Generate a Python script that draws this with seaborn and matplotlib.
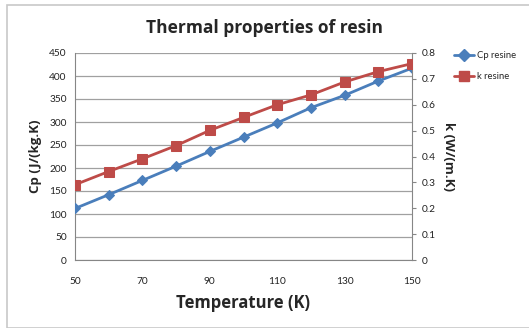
import matplotlib
matplotlib.use("Agg")
import matplotlib.pyplot as plt
import seaborn as sns
import pandas as pd
from matplotlib.patches import Rectangle
from matplotlib.lines import Line2D

temperature = [50, 60, 70, 80, 90, 100, 110, 120, 130, 140, 150]
cp_resine = [112, 142, 173, 204, 236, 267, 298, 331, 358, 389, 417]
k_resine = [0.291, 0.342, 0.391, 0.442, 0.501, 0.551, 0.600, 0.638, 0.688, 0.728, 0.759]
x_ticks = [50, 70, 90, 110, 130, 150]
left_ticks = [0, 50, 100, 150, 200, 250, 300, 350, 400, 450]
right_ticks = [0, 0.1, 0.2, 0.3, 0.4, 0.5, 0.6, 0.7, 0.8]

df = pd.DataFrame({"T": temperature, "cp": cp_resine, "k": k_resine})

sns.set_style("white")
plt.rcParams["font.family"] = ["Lato", "DejaVu Sans"]
bold_font = ["Open Sans", "DejaVu Sans"]

blue = "#4A7EBB"
red = "#BE4B48"
grid_c = "#A0A0A0"
axis_c = "#868686"

fig = plt.figure(figsize=(5.29, 3.28), dpi=100)
fig.patches.append(Rectangle((7/529, 0), 1.2, 1 - 5/328, transform=fig.transFigure,
                             fill=False, edgecolor="#C8C8C8", linewidth=1.2))
ax = fig.add_axes([75/529, 1 - 260/328, 337/529, 207/328])
ax2 = ax.twinx()

sns.lineplot(data=df, x="T", y="cp", ax=ax, color=blue, marker="D", markersize=5,
             markeredgecolor=blue, linewidth=2, zorder=3)
sns.lineplot(data=df, x="T", y="k", ax=ax2, color=red, marker="s", markersize=7,
             markeredgecolor=red, linewidth=2, zorder=3)

ax.set_xlim(50, 150)
ax.set_ylim(0, 450)
ax2.set_ylim(0, 0.8)
ax.set_xticks(x_ticks)
ax.set_yticks(left_ticks)
ax2.set_yticks(right_ticks)
ax2.set_yticklabels([f"{v:g}" for v in right_ticks])
ax.yaxis.grid(True, color=grid_c, linewidth=0.9)
ax.set_axisbelow(True)

for a in (ax, ax2):
    for s in a.spines.values():
        s.set_visible(False)
ax.spines["left"].set_visible(True)
ax.spines["bottom"].set_visible(True)
ax.spines["left"].set_color(axis_c)
ax.spines["bottom"].set_color(axis_c)
ax2.spines["right"].set_visible(True)
ax2.spines["right"].set_color(axis_c)

ax.tick_params(axis="both", length=0, labelsize=7.3, colors="#222222", pad=6)
ax.tick_params(axis="x", pad=12)
ax2.tick_params(axis="y", length=3, color=axis_c, labelsize=7.3, labelcolor="#222222", pad=4, direction="out")

ax.set_xlabel("Temperature (K)", fontsize=12, fontweight="bold", family=bold_font, labelpad=6)
ax.set_ylabel("Cp (J/(kg.K)", fontsize=9.5, fontweight="bold", family=bold_font, labelpad=5)
ax2.set_ylabel("k (W/(m.K)", fontsize=9.5, fontweight="bold", family=bold_font, rotation=-90, labelpad=14)

fig.text(0.5, 1 - 28/328, "Thermal properties of resin", ha="center", va="center",
         fontsize=12.5, fontweight="bold", family=bold_font)

handles = [Line2D([], [], color=blue, marker="D", markersize=6, linewidth=2),
           Line2D([], [], color=red, marker="s", markersize=7.5, linewidth=2)]
fig.legend(handles, ["Cp resine", "k resine"], loc="upper left",
           bbox_to_anchor=(445/529, 1 - 43/328), frameon=False, fontsize=6.8,
           handlelength=2.2, handletextpad=0.3, labelspacing=1.2)

fig.savefig("out.png", dpi=100)
